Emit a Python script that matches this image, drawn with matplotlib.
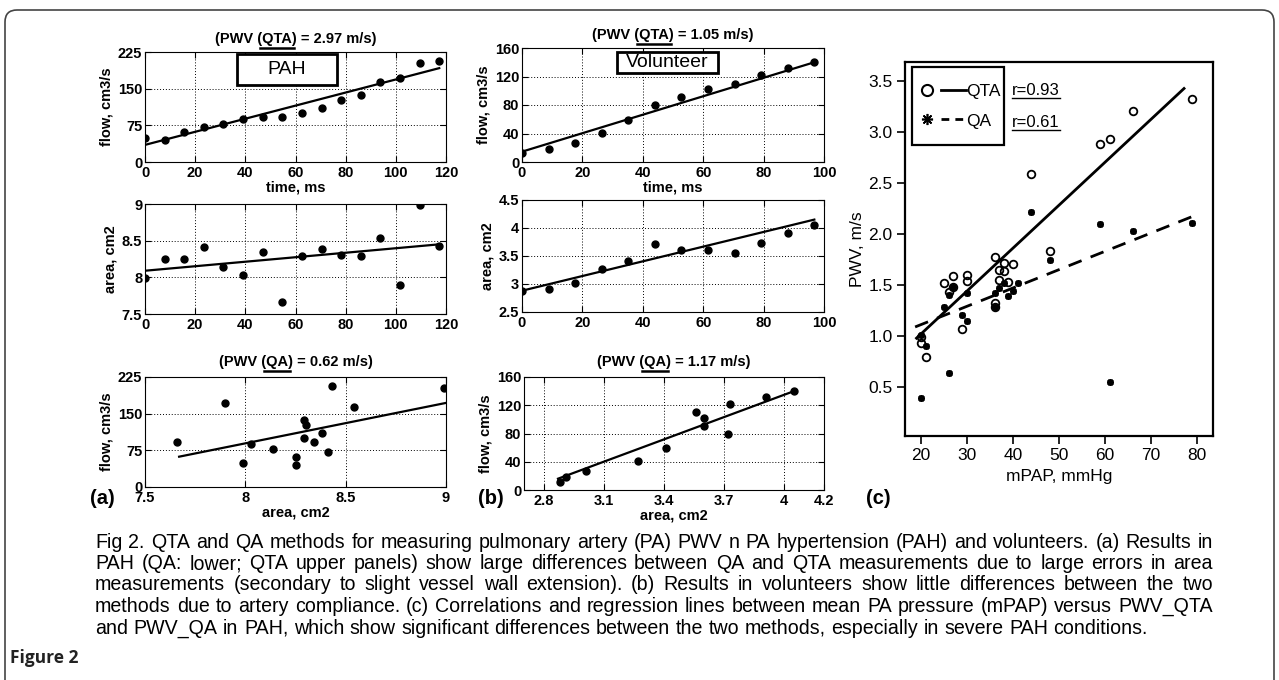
import matplotlib
matplotlib.use("Agg")
import matplotlib.pyplot as plt
from matplotlib.lines import Line2D
from matplotlib.patches import FancyBboxPatch, Rectangle
from matplotlib.font_manager import FontProperties
from matplotlib.legend_handler import HandlerTuple
from matplotlib.ticker import FuncFormatter
from matplotlib.transforms import IdentityTransform

plt.rcParams['font.family'] = ['Liberation Sans', 'DejaVu Sans']

# -------------------------------
# Data
# -------------------------------
# (a) PAH patient
pah_time = [0, 7.8, 15.6, 23.4, 31.2, 39.1, 46.9, 54.7, 62.5, 70.4, 78.2, 86.0, 93.8, 101.6, 109.5, 117.3]
pah_flow = [50, 46, 61, 71, 78, 87, 92, 92, 101, 110, 126, 137, 163, 172, 203, 207]
pah_area = [7.99, 8.25, 8.25, 8.41, 8.14, 8.03, 8.34, 7.66, 8.29, 8.38, 8.30, 8.29, 8.54, 7.90, 8.99, 8.43]
pah_flow_fit_t = [0, 117.3]
pah_flow_fit = [35, 192]
pah_area_fit_t = [0, 117.3]
pah_area_fit = [8.09, 8.45]
pah_qa_fit_a = [7.67, 9.0]
pah_qa_fit_q = [62, 172]

# (b) volunteer
vol_time = [0, 8.8, 17.6, 26.4, 35.2, 44.0, 52.8, 61.6, 70.4, 79.2, 88.0, 96.8]
vol_flow = [12, 18, 27, 41, 59, 80, 91, 102, 110, 122, 132, 140]
vol_area = [2.88, 2.91, 3.01, 3.27, 3.41, 3.72, 3.60, 3.60, 3.56, 3.73, 3.91, 4.05]
vol_flow_fit_t = [0, 96.8]
vol_flow_fit = [14.5, 140]
vol_area_fit_t = [0, 96.8]
vol_area_fit = [2.88, 4.15]
vol_qa_fit_a = [2.87, 4.05]
vol_qa_fit_q = [16, 140]

# (c) PWV vs mPAP
qta_mpap = [20, 20, 21, 25, 26, 27, 27, 29, 30, 30, 36, 36, 36, 37, 37, 38, 38, 39, 40, 44, 48, 59, 61, 66, 79]
qta_pwv = [0.99, 0.93, 0.80, 1.52, 1.43, 1.48, 1.59, 1.07, 1.60, 1.54, 1.78, 1.33, 1.29, 1.65, 1.55, 1.72, 1.64,
           1.53, 1.71, 2.59, 1.84, 2.89, 2.93, 3.21, 3.33]
qa_mpap = [20, 20, 21, 25, 26, 27, 26, 29, 30, 30, 36, 36, 37, 38, 39, 40, 41, 44, 48, 59, 61, 66, 79]
qa_pwv = [0.39, 1.01, 0.90, 1.29, 0.64, 1.48, 1.40, 1.21, 1.15, 1.42, 1.29, 1.42, 1.47, 1.52, 1.39, 1.44, 1.52,
          2.22, 1.75, 2.10, 0.55, 2.03, 2.11]
qta_fit_x = [19, 77.2]
qta_fit_y = [0.98, 3.43]
qa_fit_x = [18.7, 78.8]
qa_fit_y = [1.09, 2.17]

caption_lines = [
    "Fig 2. QTA and QA methods for measuring pulmonary artery (PA) PWV n PA hypertension (PAH) and volunteers. (a) Results in",
    "PAH (QA: lower; QTA upper panels) show large differences between QA and QTA measurements due to large errors in area",
    "measurements (secondary to slight vessel wall extension). (b) Results in volunteers show little differences between the two",
    "methods due to artery compliance. (c) Correlations and regression lines between mean PA pressure (mPAP) versus PWV_QTA",
    "and PWV_QA in PAH, which show significant differences between the two methods, especially in severe PAH conditions.",
]

# -------------------------------
# Figure helpers (pixel layout)
# -------------------------------
W, H = 1279, 680
fig = plt.figure(figsize=(W / 100, H / 100), dpi=100)
renderer = fig.canvas.get_renderer()
FS = 10.5


def add_ax(l, r, t, b):
    return fig.add_axes([l / W, 1 - b / H, (r - l) / W, (b - t) / H])


def text_w(s, size, weight="normal"):
    prop = FontProperties(family=["Liberation Sans"], size=size, weight=weight)
    return renderer.get_text_width_height_descent(s, prop, ismath=False)[0]


def hline_px(x0, x1, y, lw=1.6):
    fig.add_artist(Line2D([x0 / W, x1 / W], [1 - y / H, 1 - y / H], color="k", lw=lw,
                          transform=fig.transFigure))


def matlab_style(ax, xlim, xticks, ylim, yticks):
    ax.set_xlim(xlim)
    ax.set_ylim(ylim)
    ax.set_xticks(xticks)
    ax.set_yticks(yticks)
    fmt = FuncFormatter(lambda v, p: "{:g}".format(round(v, 3)))
    ax.xaxis.set_major_formatter(fmt)
    ax.yaxis.set_major_formatter(fmt)
    ax.grid(True, linestyle=(0, (1, 2)), color="k", lw=0.7)
    ax.tick_params(direction="in", top=True, right=True, length=4, width=0.8, labelsize=FS, pad=2)
    ax.tick_params(axis="x", pad=3)
    for lab in ax.get_xticklabels() + ax.get_yticklabels():
        lab.set_fontweight("bold")
    for s in ax.spines.values():
        s.set_linewidth(0.8)


def titled(cx, y, pre, sub, post):
    full = pre + sub + post
    fig.text(cx / W, 1 - y / H, full, ha="center", va="baseline", fontsize=FS, fontweight="bold")
    wf = text_w(full, FS, "bold")
    x0 = cx - wf / 2 + text_w(pre, FS, "bold")
    x1 = x0 + text_w(sub, FS, "bold")
    hline_px(x0 - 2, x1 + 2, y + 5, lw=1.8)


def boxed_label(ax, x0, x1, y0, y1, s):
    ax.add_patch(Rectangle((x0, y0), x1 - x0, y1 - y0, transform=ax.transAxes, fc="white",
                           ec="k", lw=2, zorder=5))
    ax.text((x0 + x1) / 2, (y0 + y1) / 2, s, transform=ax.transAxes, ha="center", va="center",
            fontsize=14, zorder=6)


# -------------------------------
# (a) PAH panels
# -------------------------------
ax = add_ax(145, 446, 52, 162)
matlab_style(ax, (0, 120), range(0, 121, 20), (0, 225), [0, 75, 150, 225])
ax.plot(pah_time, pah_flow, "o", color="k", ms=5)
ax.plot(pah_flow_fit_t, pah_flow_fit, "-", color="k", lw=1.6)
ax.set_xlabel("time, ms", fontsize=FS, fontweight="bold", labelpad=0)
ax.set_ylabel("flow, cm3/s", fontsize=FS, fontweight="bold", labelpad=3)
boxed_label(ax, 0.306, 0.638, 0.70, 0.985, "PAH")
titled(295.5, 43, "(PWV (", "QTA", ") = 2.97 m/s)")

ax = add_ax(145, 446, 204, 314)
matlab_style(ax, (0, 120), range(0, 121, 20), (7.5, 9), [7.5, 8, 8.5, 9])
ax.plot(pah_time, pah_area, "o", color="k", ms=5)
ax.plot(pah_area_fit_t, pah_area_fit, "-", color="k", lw=1.6)
ax.set_ylabel("area, cm2", fontsize=FS, fontweight="bold", labelpad=3)

ax = add_ax(145, 446, 377, 487)
matlab_style(ax, (7.5, 9), [7.5, 8, 8.5, 9], (0, 225), [0, 75, 150, 225])
ax.plot(pah_area, pah_flow, "o", color="k", ms=5)
ax.plot(pah_qa_fit_a, pah_qa_fit_q, "-", color="k", lw=1.6)
ax.set_xlabel("area, cm2", fontsize=FS, fontweight="bold", labelpad=0)
ax.set_ylabel("flow, cm3/s", fontsize=FS, fontweight="bold", labelpad=3)
titled(295.5, 366, "(PWV (", "QA", ") = 0.62 m/s)")

# -------------------------------
# (b) volunteer panels
# -------------------------------
ax = add_ax(522, 824, 48, 162)
matlab_style(ax, (0, 100), range(0, 101, 20), (0, 160), range(0, 161, 40))
ax.plot(vol_time, vol_flow, "o", color="k", ms=5)
ax.plot(vol_flow_fit_t, vol_flow_fit, "-", color="k", lw=1.6)
ax.set_xlabel("time, ms", fontsize=FS, fontweight="bold", labelpad=0)
ax.set_ylabel("flow, cm3/s", fontsize=FS, fontweight="bold", labelpad=3)
boxed_label(ax, 0.315, 0.649, 0.78, 0.965, "Volunteer")
titled(673, 39, "(PWV (", "QTA", ") = 1.05 m/s)")

ax = add_ax(522, 824, 200, 312)
matlab_style(ax, (0, 100), range(0, 101, 20), (2.5, 4.5), [2.5, 3, 3.5, 4, 4.5])
ax.plot(vol_time, vol_area, "o", color="k", ms=5)
ax.plot(vol_area_fit_t, vol_area_fit, "-", color="k", lw=1.6)
ax.set_ylabel("area, cm2", fontsize=FS, fontweight="bold", labelpad=3)

ax = add_ax(524, 824, 377, 490)
matlab_style(ax, (2.7, 4.2), [2.8, 3.1, 3.4, 3.7, 4.0, 4.2], (0, 160), range(0, 161, 40))
ax.plot(vol_area, vol_flow, "o", color="k", ms=5)
ax.plot(vol_qa_fit_a, vol_qa_fit_q, "-", color="k", lw=1.6)
ax.set_xlabel("area, cm2", fontsize=FS, fontweight="bold", labelpad=0)
ax.set_ylabel("flow, cm3/s", fontsize=FS, fontweight="bold", labelpad=3)
titled(674, 366, "(PWV (", "QA", ") = 1.17 m/s)")

# -------------------------------
# (c) PWV vs mPAP
# -------------------------------
FC = 12.5
ax = add_ax(905, 1213, 62, 436)
ax.plot(qta_mpap, qta_pwv, "o", mfc="none", mec="k", mew=1.3, ms=5.5, ls="none")
ax.plot(qa_mpap, qa_pwv, marker=(8, 2, 0), color="k", mew=1.3, ms=5, ls="none")
ax.plot(qta_fit_x, qta_fit_y, "-", color="k", lw=2)
ax.plot(qa_fit_x, qa_fit_y, color="k", lw=2, dashes=(5, 3.5))
ax.set_xlim(16.5, 83.5)
ax.set_ylim(0.02, 3.69)
ax.set_xticks(range(20, 81, 10))
ax.set_yticks([0.5, 1.0, 1.5, 2.0, 2.5, 3.0, 3.5])
ax.yaxis.set_major_formatter(FuncFormatter(lambda v, p: "%.1f" % v))
ax.tick_params(direction="out", length=6, width=1.2, labelsize=FC, pad=3)
for s in ax.spines.values():
    s.set_linewidth(1.6)
ax.set_xlabel("mPAP, mmHg", fontsize=FC, labelpad=4)
ax.set_ylabel("PWV, m/s", fontsize=FC, labelpad=2)

# legend: frame drawn as its own box, entries placed inside it
ax.add_patch(Rectangle((0.0227, 0.778), 0.298, 0.209, transform=ax.transAxes, fc="white",
                       ec="k", lw=1.6, zorder=4))
h_qta = (Line2D([], [], marker="o", mfc="none", mec="k", mew=1.5, ms=8, ls="none"),
         Line2D([], [], color="k", lw=2))
h_qa = (Line2D([], [], marker=(8, 2, 0), color="k", mew=1.2, ms=8, ls="none"),
        Line2D([], [], color="k", lw=2, dashes=(2.8, 2.2)))
leg = ax.legend([h_qta, h_qa], ["QTA", "QA"], loc="center left",
                bbox_to_anchor=(0.03, (436 - 106) / 374), borderaxespad=0, borderpad=0,
                fontsize=FC, handlelength=3.0, handletextpad=0.0, labelspacing=0.85,
                handler_map={tuple: HandlerTuple(ndivide=None, pad=0.05)}, frameon=False)
leg.set_zorder(5)

for r_txt, ypx in [("r=0.93", 90), ("r=0.61", 122)]:
    fig.text(1012 / W, 1 - (ypx + 5) / H, r_txt, ha="left", va="baseline", fontsize=12)
    hline_px(1012, 1012 + text_w(r_txt, 12), ypx + 8, lw=1.0)

# panel letters
for lab, xpx in [("(a)", 90), ("(b)", 478), ("(c)", 866)]:
    fig.text(xpx / W, 1 - 498 / H, lab, ha="left", va="center", fontsize=14.5, fontweight="bold")

# -------------------------------
# Caption (justified) and frame
# -------------------------------
x_left, x_right = 95, 1213
widest = max(text_w(line, 10) for line in caption_lines)
CAP_FS = 10 * (x_right - x_left - 12) / widest
for i, line in enumerate(caption_lines):
    y = 542 + i * 21.5
    words = line.split(" ")
    widths = [text_w(w, CAP_FS) for w in words]
    if i < len(caption_lines) - 1:
        gap = (x_right - x_left - sum(widths)) / (len(words) - 1)
    else:
        gap = text_w("a a", CAP_FS) - 2 * text_w("a", CAP_FS)
    x = x_left
    for w, wd in zip(words, widths):
        fig.text(x / W, 1 - y / H, w, ha="left", va="center", fontsize=CAP_FS, color="#000000")
        x += wd + gap

fig.text(10 / W, 1 - 658 / H, "Figure 2", ha="left", va="center", fontsize=12.5,
         fontweight="bold", family=["Open Sans", "DejaVu Sans"], color="#222222")

frame = FancyBboxPatch((5, -30), 1269, 700, boxstyle="round,pad=0,rounding_size=12",
                       transform=IdentityTransform(), fill=False, ec="#444444", lw=1.2)
fig.add_artist(frame)

fig.savefig("out.png", dpi=100, facecolor="white")
